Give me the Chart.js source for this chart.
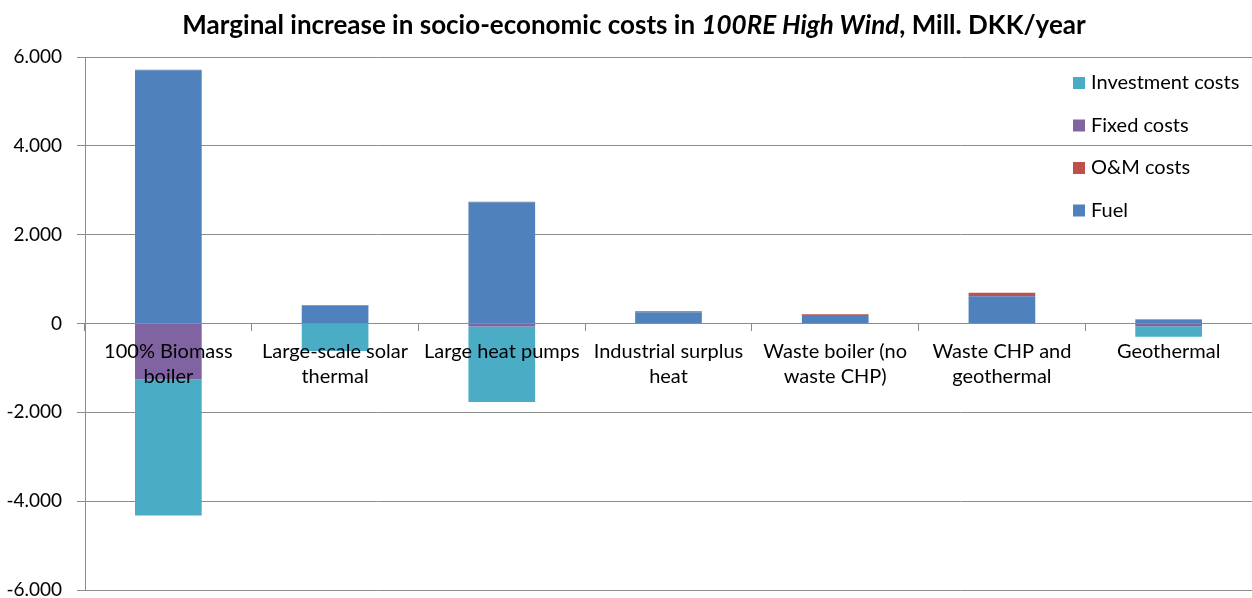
<!DOCTYPE html>
<html>
<head>
<meta charset="utf-8">
<script src="https://cdn.jsdelivr.net/npm/chart.js@4/dist/chart.umd.min.js"></script>
<style>
  html, body { margin: 0; background: #fff; }
  #wrap { width: 1252px; height: 598px; }
</style>
</head>
<body>
<div id="wrap"><canvas id="chart"></canvas></div>
<script>
// Mill. DKK/year per heat supply option
const categories = [
  ['100% Biomass', 'boiler'],
  ['Large-scale solar', 'thermal'],
  ['Large heat pumps'],
  ['Industrial surplus', 'heat'],
  ['Waste boiler (no', 'waste CHP)'],
  ['Waste CHP and', 'geothermal'],
  ['Geothermal']
]
const fuel = [5700, 405, 2730, 255, 190, 615, 90]
const omCosts = [15, 10, 10, 18, 20, 80, 5]
const fixedCosts = [-1260, 0, -70, 0, 0, 0, -60]
const investmentCosts = [-3060, -620, -1700, 0, 0, 0, -240]

const yMin = -6000
const yMax = 6000
const yStep = 2000

const titleParts = [
  { text: 'Marginal increase in socio-economic costs in ', italic: false },
  { text: '100RE High Wind', italic: true },
  { text: ', Mill. DKK/year', italic: false }
]

const FONT = 'Lato, "Open Sans", sans-serif'
const GRID = '#8c8c8c'

function formatDK (v) {
  const s = Math.abs(v).toString().replace(/\B(?=(\d{3})+(?!\d))/g, '.')
  return (v < 0 ? '-' : '') + s
}

// title with an italic middle part
const titlePlugin = {
  id: 'mixedTitle',
  afterDraw (chart) {
    const ctx = chart.ctx
    ctx.save()
    ctx.fillStyle = '#000'
    ctx.textBaseline = 'middle'
    ctx.textAlign = 'left'
    const fonts = titleParts.map(p => (p.italic ? 'italic ' : '') + 'bold 26px ' + FONT)
    let total = 0
    const widths = titleParts.map((p, i) => {
      ctx.font = fonts[i]
      const w = ctx.measureText(p.text).width
      total += w
      return w
    })
    let x = 634 - total / 2
    titleParts.forEach((p, i) => {
      ctx.font = fonts[i]
      ctx.fillText(p.text, x, 26)
      x += widths[i]
    })
    ctx.restore()
  }
}

// vertical legend drawn inside the plot, top right
const legendPlugin = {
  id: 'innerLegend',
  afterDraw (chart) {
    const ctx = chart.ctx
    const items = chart.data.datasets.slice().reverse()
    ctx.save()
    ctx.font = '20px ' + FONT
    ctx.textBaseline = 'middle'
    ctx.textAlign = 'left'
    items.forEach((ds, i) => {
      const y = 83 + i * 42.5
      ctx.fillStyle = ds.backgroundColor
      ctx.fillRect(1073, y - 6, 12, 12)
      ctx.fillStyle = '#000'
      ctx.fillText(ds.label, 1091, y)
    })
    ctx.restore()
  }
}

const datasets = [
  { label: 'Fuel', data: fuel, backgroundColor: '#4f81bd' },
  { label: 'O&M costs', data: omCosts, backgroundColor: '#c0504d' },
  { label: 'Fixed costs', data: fixedCosts, backgroundColor: '#8064a2' },
  { label: 'Investment costs', data: investmentCosts, backgroundColor: '#4bacc6' }
]

new Chart(document.getElementById('chart'), {
  type: 'bar',
  data: { labels: categories, datasets },
  plugins: [titlePlugin, legendPlugin],
  options: {
    responsive: true,
    maintainAspectRatio: false,
    animation: false,
    layout: { padding: { top: 57, left: 0, right: 0, bottom: 8 } },
    datasets: { bar: { categoryPercentage: 1, barPercentage: 0.4 } },
    plugins: {
      legend: { display: false },
      title: { display: false },
      tooltip: { enabled: false }
    },
    scales: {
      x: {
        stacked: true,
        position: { y: 0 },
        grid: { display: true, drawOnChartArea: false, drawTicks: true, tickLength: 7, color: GRID, offset: true },
        // zero line and category labels go on top of the bars
        border: { display: true, color: GRID, width: 1, z: 1 },
        ticks: {
          z: 1,
          color: '#000',
          padding: 9,
          maxRotation: 0,
          autoSkip: false,
          font: { family: FONT, size: 20, lineHeight: 1.25 }
        },
        afterFit (s) {
          s.height = 0
          s.paddingLeft = 0
          s.paddingRight = 0
        }
      },
      y: {
        stacked: true,
        min: yMin,
        max: yMax,
        grid: { color: GRID, lineWidth: 1, tickLength: 8 },
        border: { display: true, color: GRID, width: 1 },
        ticks: {
          stepSize: yStep,
          color: '#000',
          padding: 15,
          font: { family: FONT, size: 19 },
          callback: v => formatDK(v)
        },
        afterFit (s) {
          s.width = 85
          s.paddingTop = 0
          s.paddingBottom = 0
        }
      }
    }
  }
})
</script>
</body>
</html>
